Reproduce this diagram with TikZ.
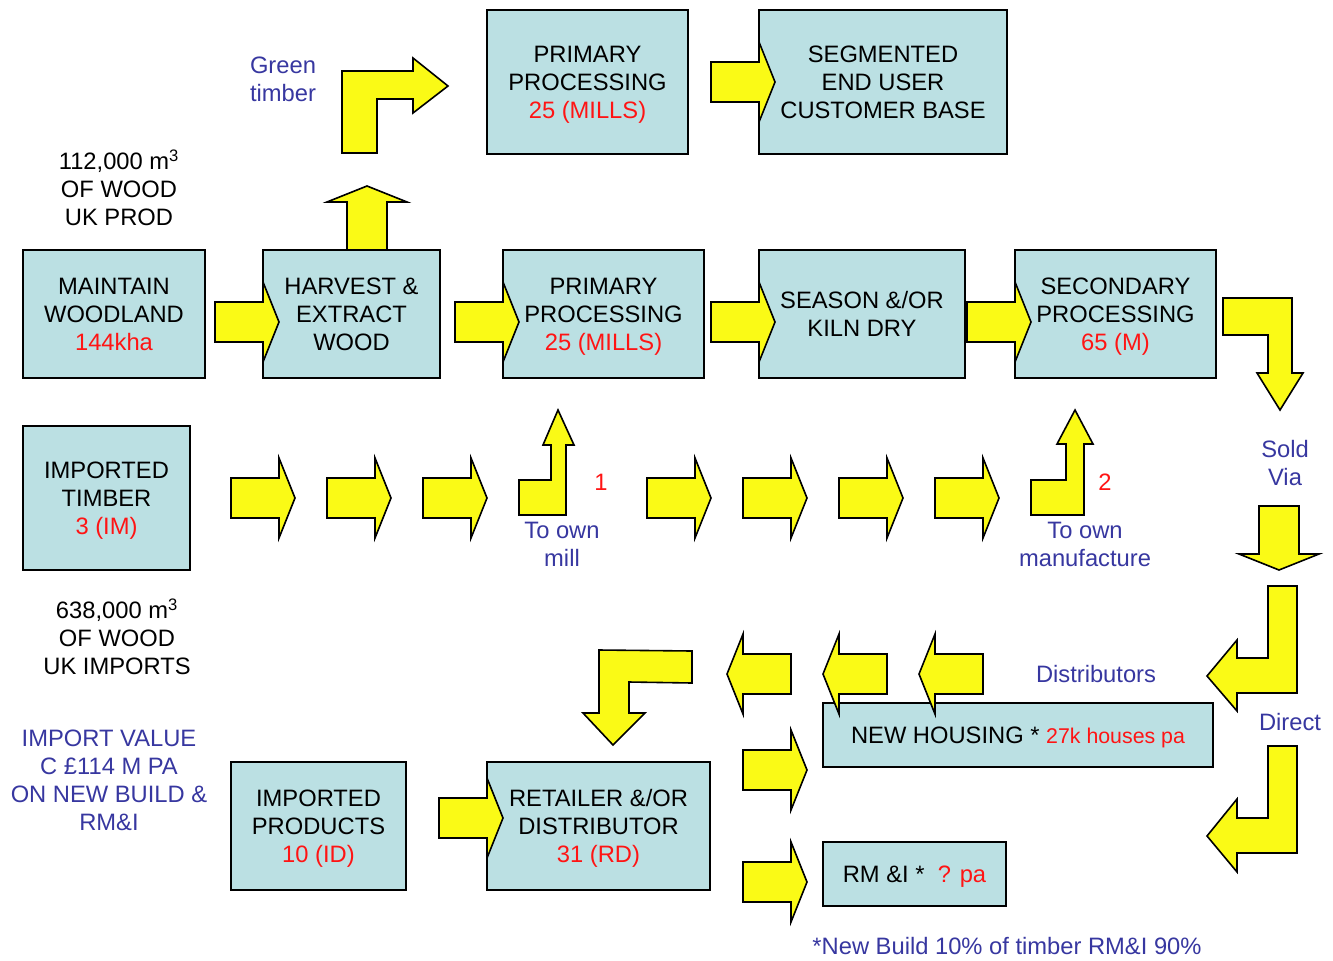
\documentclass[tikz,border=0pt]{standalone}
\usepackage{fontspec}
\setmainfont{Liberation Sans}
\definecolor{boxfill}{RGB}{187,224,227}
\definecolor{arrowyellow}{RGB}{250,250,22}
\definecolor{labelblue}{RGB}{55,55,160}
\definecolor{figred}{RGB}{255,20,20}
\begin{document}
\begin{tikzpicture}[x=0.75pt,y=-0.75pt,
  txt/.style={font=\fontsize{17.8}{21}\selectfont, align=center, inner sep=0pt},
  bluetxt/.style={txt, text=labelblue},
  box/.style 2 args={draw=black, line width=1.4pt, fill=boxfill,
    minimum width=#1*0.75pt, minimum height=#2*0.75pt, txt, text depth=0pt},
  blk/.style={draw=black, line width=1.2pt, fill=arrowyellow, line join=miter},
  rarr/.pic={\draw[blk] (0,-20) -- (48,-20) -- (48,-40) -- (64,0) -- (48,40) -- (48,20) -- (0,20) -- cycle;},
  larr/.pic={\draw[blk] (0,0) -- (16,-40) -- (16,-20) -- (64,-20) -- (64,20) -- (16,20) -- (16,40) -- cycle;},
  uarr/.pic={\draw[blk] (-20,0) -- (-20,-48) -- (-40,-48) -- (0,-64) -- (40,-48) -- (20,-48) -- (20,0) -- cycle;},
  darr/.pic={\draw[blk] (-20,0) -- (20,0) -- (20,48) -- (40,48) -- (0,64) -- (-40,48) -- (-20,48) -- cycle;}
]
\useasboundingbox (0,0) rectangle (1333,960);

% process boxes
\node[box={201}{144}] (pptop) at (587.5,82) {PRIMARY\\PROCESSING\\\textcolor{figred}{25 (MILLS)}};
\node[box={248}{144}] (seg) at (883,82) {SEGMENTED\\END USER\\CUSTOMER BASE};
\node[box={182}{128}] (maint) at (114,314) {MAINTAIN\\WOODLAND\\\textcolor{figred}{144kha}};
\node[box={177}{128}] (harv) at (351.5,314) {HARVEST \&\\EXTRACT\\WOOD};
\node[box={201}{128}] (ppmid) at (603.5,314) {PRIMARY\\PROCESSING\\\textcolor{figred}{25 (MILLS)}};
\node[box={206}{128}] (kiln) at (862,314) {SEASON \&/OR\\KILN DRY};
\node[box={201}{128}] (sec) at (1115.5,314) {SECONDARY\\PROCESSING\\\textcolor{figred}{65 (M)}};
\node[box={167}{144}] (imptim) at (106.5,498) {IMPORTED\\TIMBER\\\textcolor{figred}{3 (IM)}};
\node[box={390}{64}] (house) at (1018,735) {NEW HOUSING * \textcolor{figred}{\fontsize{16}{18}\selectfont 27k houses pa}};
\node[box={175}{128}] (impprod) at (318.5,826) {IMPORTED\\PRODUCTS\\\textcolor{figred}{10 (ID)}};
\node[box={223}{128}] (retail) at (598.5,826) {RETAILER \&/OR\\DISTRIBUTOR\\\textcolor{figred}{31 (RD)}};
\node[box={183}{64}] (rmi) at (914.5,874) {RM \&I *\ \ \textcolor{figred}{? pa}};

% straight block arrows
\foreach \p in {(711,82),(215,322),(455,322),(711,322),(967,322),
                (231,498),(327,498),(423,498),(647,498),(743,498),(839,498),(935,498),
                (743,770),(743,882),(439,818)}
  \pic at \p {rarr};
\foreach \p in {(727,674),(823,674),(919,674)}
  \pic at \p {larr};
\pic at (367,250) {uarr};
\pic at (1279,506) {darr};

% bent block arrows
\draw[blk] (342,153) -- (342,71) -- (413,71) -- (413,58) -- (448,86) -- (413,113) -- (413,99) -- (377,99) -- (377,153) -- cycle;
\draw[blk] (519,515) -- (566,515) -- (566,445) -- (574,445) -- (558,410) -- (543,445) -- (551,445) -- (551,480) -- (519,480) -- cycle;
\draw[blk] (1031,515) -- (1084,515) -- (1084,444) -- (1093,444) -- (1075,410) -- (1057,444) -- (1066,444) -- (1066,480) -- (1031,480) -- cycle;
\draw[blk] (1223,298) -- (1292,298) -- (1292,373) -- (1303,373) -- (1280,410) -- (1257,373) -- (1268,373) -- (1268,335) -- (1223,335) -- cycle;
\draw[blk] (1268,586) -- (1297,586) -- (1297,693) -- (1237,693) -- (1237,711) -- (1207,676) -- (1237,640) -- (1237,658) -- (1268,658) -- cycle;
\draw[blk] (1268,746) -- (1297,746) -- (1297,853) -- (1237,853) -- (1237,872) -- (1207,836) -- (1237,799) -- (1237,818) -- (1268,818) -- cycle;
\draw[blk] (599,650) -- (692,651) -- (692,683) -- (629,682) -- (629,713) -- (645,713) -- (613,745) -- (583,713) -- (599,713) -- cycle;

% labels
\node[bluetxt] (green) at (283,79) {Green\\timber};
\node[txt] (ukprod) at (119,188) {112,000 m\textsuperscript{3}\\OF WOOD\\UK PROD};
\node[txt] (ukimp) at (117,636.5) {638,000 m\textsuperscript{3}\\OF WOOD\\UK IMPORTS};
\node[bluetxt] (impval) at (109,780) {IMPORT VALUE\\C £114 M PA\\ON NEW BUILD \&\\RM\&I};
\node[txt, text=figred] (one) at (601,482) {1};
\node[txt, text=figred] (two) at (1105,482) {2};
\node[bluetxt] (ownmill) at (562,544) {To own\\mill};
\node[bluetxt] (ownman) at (1085,544) {To own\\manufacture};
\node[bluetxt] (sold) at (1285,463.5) {Sold\\Via};
\node[bluetxt] (distr) at (1096,674) {Distributors};
\node[bluetxt] (direct) at (1290,722) {Direct};
\node[bluetxt] (foot) at (1007,946) {*New Build 10\% of timber RM\&I 90\%};
\end{tikzpicture}
\end{document}
